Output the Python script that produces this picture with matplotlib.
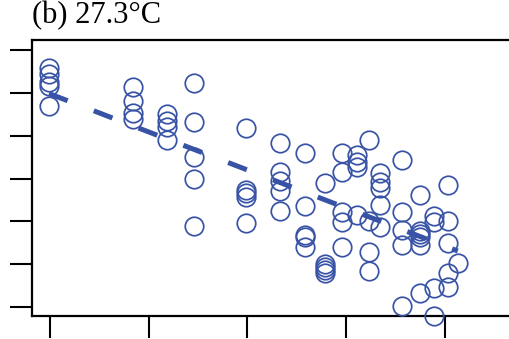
import matplotlib
matplotlib.use("Agg")
import matplotlib.pyplot as plt
import numpy as np

# ── data (arbitrary units; tick labels are not shown in the reference) ──
x_cols = [-0.01, 0.84, 1.19, 1.46, 1.99, 2.33, 2.58, 2.79, 2.96,
          3.11, 3.23, 3.34, 3.56, 3.75, 3.89, 4.03, 4.13]
y_cols = [
    [5.58, 5.44, 5.26, 5.16, 4.70],
    [5.14, 4.81, 4.53, 4.39],
    [4.51, 4.35, 4.21, 3.90],
    [5.23, 4.32, 3.50, 2.99, 1.89],
    [4.18, 2.73, 2.66, 2.57, 1.96],
    [3.83, 3.15, 2.94, 2.71, 2.24],
    [3.60, 2.36, 1.68, 1.64, 1.40],
    [2.90, 1.00, 0.93, 0.86, 0.79],
    [3.60, 3.15, 2.22, 1.99, 1.40],
    [3.55, 3.39, 3.27, 2.15],
    [3.90, 2.01, 1.29, 0.84],
    [3.13, 2.92, 2.78, 2.38, 1.87],
    [3.43, 2.22, 1.80, 1.45, 0.02],
    [2.62, 1.78, 1.71, 1.64, 1.45, 0.33],
    [2.13, 1.99, 0.44, -0.21],
    [2.85, 2.01, 1.50, 0.79, 0.47],
    [1.03],
]
fit_slope = -0.889
fit_intercept = 4.98

x_ticks = [0, 1, 2, 3, 4]
y_ticks = [0, 1, 2, 3, 4, 5, 6]
title = "(b) 27.3°C"

BLUE = "#3853a6"

xs = np.concatenate([[x] * len(ys) for x, ys in zip(x_cols, y_cols)])
ys = np.concatenate([np.array(v) for v in y_cols])

fig = plt.figure(figsize=(5.09, 3.39), dpi=100)
# right spine sits just outside the picture, as in the reference
ax = fig.add_axes([32 / 509, 23 / 339, 488 / 509, 276 / 339])

ax.plot(xs, ys, linestyle="none", marker="o", markersize=13.3,
        markerfacecolor="none", markeredgecolor=BLUE, markeredgewidth=1.25,
        clip_on=False, zorder=3)

fx = np.array([min(x_cols), max(x_cols)])
ax.plot(fx, fit_intercept + fit_slope * fx, color=BLUE, linewidth=3.6,
        linestyle=(0, (4.0, 5.6)), solid_capstyle="butt",
        dash_capstyle="butt", zorder=4)

ax.set_xlim(-0.182, 4.76)
ax.set_ylim(-0.21, 6.24)
ax.set_xticks(x_ticks)
ax.set_yticks(y_ticks)
ax.set_xticklabels([])
ax.set_yticklabels([])
ax.tick_params(direction="out", length=16, width=1.5, color="black")
for s in ax.spines.values():
    s.set_linewidth(1.6)
    s.set_zorder(2)

fig.text(32 / 509, 1 - 23 / 339, title, family="Liberation Serif",
         fontsize=22, va="baseline", ha="left")

fig.savefig("out.png", dpi=100)
